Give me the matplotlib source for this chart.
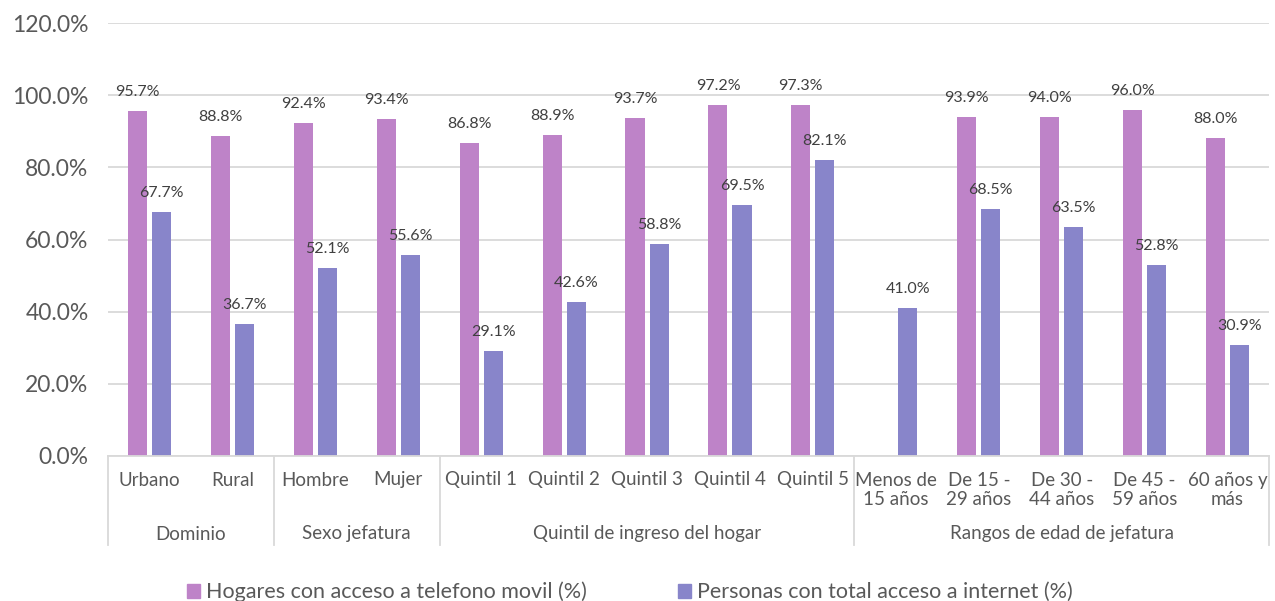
import matplotlib
matplotlib.use("Agg")
import matplotlib.pyplot as plt
import matplotlib.transforms as mtrans
from matplotlib.patches import Patch
import numpy as np

plt.rcParams['font.family'] = ['Lato', 'DejaVu Sans']

categories = ["Urbano", "Rural", "Hombre", "Mujer", "Quintil 1", "Quintil 2",
              "Quintil 3", "Quintil 4", "Quintil 5", "Menos de\n15 años",
              "De 15 -\n29 años", "De 30 -\n44 años", "De 45 -\n59 años",
              "60 años y\nmás"]
groups = ["Dominio", "Sexo jefatura", "Quintil de ingreso del hogar",
          "Rangos de edad de jefatura"]
group_sizes = [2, 2, 5, 5]
movil = [95.7, 88.8, 92.4, 93.4, 86.8, 88.9, 93.7, 97.2, 97.3, np.nan,
         93.9, 94.0, 96.0, 88.0]
internet = [67.7, 36.7, 52.1, 55.6, 29.1, 42.6, 58.8, 69.5, 82.1, 41.0,
            68.5, 63.5, 52.8, 30.9]
series_names = ["Hogares con acceso a telefono movil (%)",
                "Personas con total acceso a internet (%)"]
colors = ["#BE83C8", "#8885CA"]

W, H = 1275, 601
fig = plt.figure(figsize=(W / 100, H / 100), dpi=100)
left, right, bottom_px, top_px = 108, 1269, 456, 23
ax = fig.add_axes([left / W, (H - bottom_px) / H, (right - left) / W,
                   (bottom_px - top_px) / H])

x = np.arange(len(categories))
bw = 0.23
off = 0.145
ax.bar(x - off, movil, bw, color=colors[0], zorder=3)
ax.bar(x + off, internet, bw, color=colors[1], zorder=3)

ax.set_xlim(-0.5, len(categories) - 0.5)
ax.set_ylim(0, 120)
ax.set_yticks(np.arange(0, 121, 20))
ax.set_yticklabels([f"{v:.1f}%" for v in np.arange(0, 121, 20)],
                   fontsize=16.5, color="#595959")
ax.tick_params(axis='y', length=0, pad=14)
ax.set_xticks([])
ax.grid(axis='y', color="#D9D9D9", linewidth=1.3, zorder=0)
for s in ["top", "right", "left"]:
    ax.spines[s].set_visible(False)
ax.spines["bottom"].set_color("#D9D9D9")
ax.spines["bottom"].set_linewidth(1.3)
ax.spines["bottom"].set_zorder(4)

# data labels
for xs, vals in ((x - off, movil), (x + off, internet)):
    for xi, v in zip(xs, vals):
        if np.isnan(v):
            continue
        ax.annotate(f"{v:.1f}%", (xi, v), xytext=(0, 19), textcoords="offset pixels",
                    ha="center", va="center", fontsize=11.5, color="#404040")

trans = mtrans.blended_transform_factory(ax.transData, ax.transAxes)
axh = bottom_px - top_px

def yfrac(ypx):
    return (bottom_px - ypx) / axh

# category labels
for xi, lab in zip(x, categories):
    yc = 480 if "\n" not in lab else 490
    ax.text(xi, yfrac(yc), lab, transform=trans, ha="center", va="center",
            fontsize=13.5, color="#595959", linespacing=1.1)

# group separators and labels
start = 0
bounds = [-0.5]
for gname, gs in zip(groups, group_sizes):
    center = start + (gs - 1) / 2
    ax.text(center, yfrac(534), gname, transform=trans, ha="center", va="center",
            fontsize=13.5, color="#595959")
    start += gs
    bounds.append(start - 0.5)
for b in bounds:
    ax.plot([b, b], [0, yfrac(545)], transform=trans, color="#D9D9D9",
            linewidth=1.3, clip_on=False)

handles = [Patch(color=colors[0]), Patch(color=colors[1])]
fig.legend(handles, series_names, loc="center", ncol=2,
           bbox_to_anchor=(630 / W, 1 - 592 / H), frameon=False,
           fontsize=15.5, handlelength=0.6, handleheight=0.6,
           handletextpad=0.3, columnspacing=4.2, labelcolor="#595959")

fig.savefig("out.png", dpi=100)
